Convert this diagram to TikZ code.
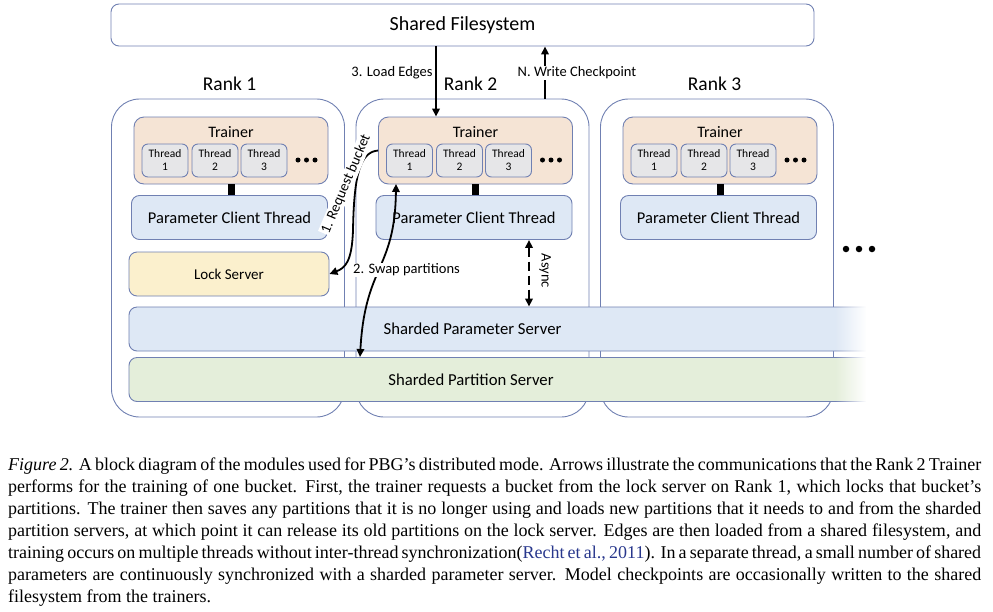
\documentclass[tikz,border=0pt]{standalone}
\usepackage{fontspec}
\setmainfont{Liberation Serif}
\newfontfamily\diafont{Carlito}
\usetikzlibrary{arrows.meta,fadings}
\definecolor{colLine}{RGB}{112,128,178}
\definecolor{colTrainer}{RGB}{245,228,213}
\definecolor{colThread}{RGB}{230,230,232}
\definecolor{colClient}{RGB}{222,232,245}
\definecolor{colLock}{RGB}{251,240,205}
\definecolor{colPart}{RGB}{228,238,218}
\definecolor{colCite}{RGB}{40,55,140}
\tikzfading[name=fadeWhite, left color=transparent!100, right color=transparent!0]
\tikzstyle{box}=[draw=colLine, line width=0.9pt, inner sep=0pt, text=black]
\tikzstyle{rankbox}=[box, fill=white, rounded corners=28pt, minimum width=233pt, minimum height=318pt]
\tikzstyle{trainerbox}=[box, fill=colTrainer, rounded corners=10pt, minimum width=194pt, minimum height=67pt]
\tikzstyle{threadbox}=[box, fill=colThread, rounded corners=6pt, minimum width=46pt, minimum height=33pt, align=center, font=\diafont\fontsize{11.5}{13}\selectfont]
\tikzstyle{clientbox}=[box, fill=colClient, rounded corners=8pt, minimum width=196pt, minimum height=44pt, font=\diafont\fontsize{16.5}{18}\selectfont]
\tikzstyle{lockbox}=[box, fill=colLock, rounded corners=8pt, minimum width=200pt, minimum height=44pt, font=\diafont\fontsize{15}{17}\selectfont]
\tikzstyle{bandbox}=[box, rounded corners=8pt, minimum width=751pt, minimum height=44pt]
\tikzstyle{bandtext}=[font=\diafont\fontsize{16.7}{18}\selectfont]
\tikzstyle{ranktext}=[font=\diafont\fontsize{19.5}{22}\selectfont]
\tikzstyle{trainertext}=[font=\diafont\fontsize{16}{18}\selectfont]
\tikzstyle{dot}=[circle, fill=black, inner sep=0pt, minimum size=5pt]
\tikzstyle{bigdot}=[circle, fill=black, inner sep=0pt, minimum size=6.5pt]
\tikzstyle{link}=[line width=7pt]
\tikzstyle{lbl}=[font=\diafont\fontsize{14.5}{16}\selectfont, inner sep=1.2pt]
\tikzstyle{arr}=[line width=1.8pt, -{Triangle[length=8pt,width=7.5pt]}]
\tikzstyle{darr}=[line width=1.8pt, {Triangle[length=8pt,width=7.5pt]}-{Triangle[length=8pt,width=7.5pt]}]
\tikzstyle{caption}=[anchor=north west, inner sep=0pt, text width=973pt, align=justify, font=\fontsize{18}{22}\selectfont]

\begin{document}
\begin{tikzpicture}[x=1pt, y=-1pt]
	\useasboundingbox (0,0) rectangle (993,611);

	%%% Shared filesystem
	\node[box, rounded corners=8pt, minimum width=703pt, minimum height=42pt, font=\diafont\fontsize{20}{22}\selectfont] (fs) at (462.5,25) {Shared Filesystem};

	%%% Rank names
	\node[ranktext] (rn1) at (229.5,84) {Rank 1};
	\node[ranktext] (rn2) at (470.5,84) {Rank 2};
	\node[ranktext] (rn3) at (714.5,84) {Rank 3};

	%%% Rank 1
	\node[rankbox]    (rk1) at (228.0, 258.0) {};
	\node[trainerbox] (tr1) at (231.0, 150.5) {};
	\node[trainertext](tt1) at (231.0, 132.5) {Trainer};
	\node[threadbox] (th11) at (165.0, 160.5) {Thread\\1};
	\node[threadbox] (th12) at (215.0, 160.5) {Thread\\2};
	\node[threadbox] (th13) at (264.0, 160.5) {Thread\\3};
	\node[dot]       (dt11) at (298.0, 160.0) {};
	\node[dot]       (dt12) at (306.5, 160.0) {};
	\node[dot]       (dt13) at (315.0, 160.0) {};
	\node[clientbox]  (pc1) at (229.5, 217.5) {Parameter Client Thread};
	\node[lockbox]    (lk1) at (229.0, 274.0) {Lock Server};
	\draw[link] (tr1.south) -- (tr1.south |- pc1.north);

	%%% Rank 2
	\begin{scope}[xshift=244.5pt]
		\node[rankbox]    (rk2) at (228.0, 258.0) {};
		\node[trainerbox] (tr2) at (231.0, 150.5) {};
		\node[trainertext](tt2) at (231.0, 132.5) {Trainer};
		\node[threadbox] (th21) at (165.0, 160.5) {Thread\\1};
		\node[threadbox] (th22) at (215.0, 160.5) {Thread\\2};
		\node[threadbox] (th23) at (264.0, 160.5) {Thread\\3};
		\node[dot]       (dt21) at (298.0, 160.0) {};
		\node[dot]       (dt22) at (306.5, 160.0) {};
		\node[dot]       (dt23) at (315.0, 160.0) {};
		\node[clientbox]  (pc2) at (229.5, 217.5) {Parameter Client Thread};
		\draw[link] (tr2.south) -- (tr2.south |- pc2.north);
	\end{scope}

	%%% Rank 3
	\begin{scope}[xshift=489pt]
		\node[rankbox]    (rk3) at (228.0, 258.0) {};
		\node[trainerbox] (tr3) at (231.0, 150.5) {};
		\node[trainertext](tt3) at (231.0, 132.5) {Trainer};
		\node[threadbox] (th31) at (165.0, 160.5) {Thread\\1};
		\node[threadbox] (th32) at (215.0, 160.5) {Thread\\2};
		\node[threadbox] (th33) at (264.0, 160.5) {Thread\\3};
		\node[dot]       (dt31) at (298.0, 160.0) {};
		\node[dot]       (dt32) at (306.5, 160.0) {};
		\node[dot]       (dt33) at (315.0, 160.0) {};
		\node[clientbox]  (pc3) at (229.5, 217.5) {Parameter Client Thread};
		\draw[link] (tr3.south) -- (tr3.south |- pc3.north);
	\end{scope}

	%%% More ranks
	\node[bigdot] (md1) at (846, 249) {};
	\node[bigdot] (md2) at (859, 249) {};
	\node[bigdot] (md3) at (872, 249) {};

	%%% Sharded servers
	\node[bandbox, fill=colClient] (psrv) at (504.5, 329.0) {};
	\node[bandtext]                (pstx) at (472.5, 329.0) {Sharded Parameter Server};
	\node[bandbox, fill=colPart]  (ptsrv) at (504.5, 379.5) {};
	\node[bandtext]               (pttx) at (471.0, 380.0) {Sharded Partition Server};
	% Fade out on the right
	\fill[white, path fading=fadeWhite] (835,300) rectangle (866,410);
	\fill[white] (866,300) rectangle (900,410);

	%%% Arrows
	\coordinate (le) at (436,0);
	\coordinate (wc) at (545,0);
	\coordinate (as) at (529,0);
	\coordinate (swA) at (396,184);
	\coordinate (swB) at (360,357);
	\draw[arr] (fs.south -| le) -- (tr2.north -| le);
	\draw[arr] (rk2.north -| wc) -- (fs.south -| wc);
	\draw[darr, dash pattern=on 9pt off 5pt] (pc2.south -| as) -- (psrv.north -| as);
	\draw[arr] (tr2.west) .. controls (360,152) and (354,175) .. (353,230) .. controls (352,262) and (345,268) .. (lk1.east);
	\draw[darr] (swA) .. controls (395,270) and (365,265) .. (swB);

	%%% Labels
	\node[lbl, fill=white, fill opacity=0.7, text opacity=1] (lel) at (392,73) {3. Load Edges};
	\node[lbl, fill=white] (wcl) at (577,73) {N. Write Checkpoint};
	\node[lbl, fill=white, rotate=67] (rbl) at (346,184) {1. Request bucket};
	\node[lbl, fill=white] (swl) at (406.5,270) {2. Swap partitions};
	\node[lbl, rotate=-90] (asl) at (545,271) {Async};

	%%% Caption
	\node[caption] (cap) at (8,457.5) {\textit{Figure 2.} A block diagram of the modules used for PBG’s distributed mode. Arrows illustrate the communications that the Rank 2 Trainer\linebreak
		performs for the training of one bucket. First, the trainer requests a bucket from the lock server on Rank 1, which locks that bucket’s\linebreak
		partitions. The trainer then saves any partitions that it is no longer using and loads new partitions that it needs to and from the sharded\linebreak
		partition servers, at which point it can release its old partitions on the lock server. Edges are then loaded from a shared filesystem, and\linebreak
		training occurs on multiple threads without inter-thread synchronization(\textcolor{colCite}{Recht et al., 2011}). In a separate thread, a small number of shared\linebreak
		parameters are continuously synchronized with a sharded parameter server. Model checkpoints are occasionally written to the shared\linebreak
		filesystem from the trainers.};
\end{tikzpicture}
\end{document}
